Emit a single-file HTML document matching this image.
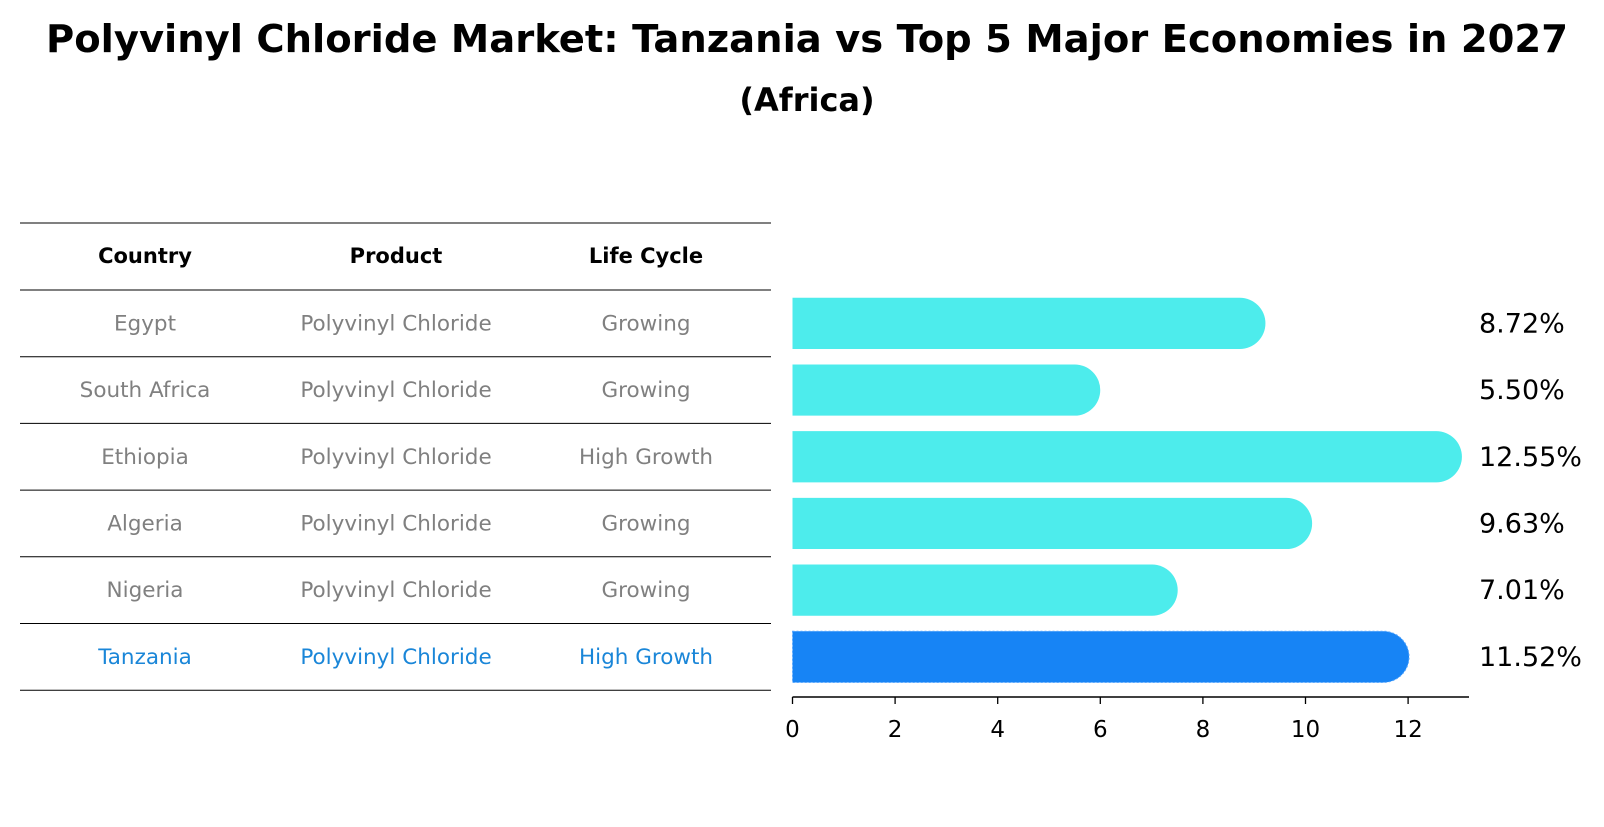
<!DOCTYPE html>
<html><head><meta charset="utf-8"><style>
body{margin:0;background:#fff;width:1604px;height:823px;overflow:hidden;font-family:"DejaVu Sans","Liberation Sans",sans-serif}
</style></head><body>
<svg width="1604" height="823" xmlns="http://www.w3.org/2000/svg" font-family="DejaVu Sans, Liberation Sans, sans-serif">
<text x="807" y="52" text-anchor="middle" font-size="38.5" font-weight="bold">Polyvinyl Chloride Market: Tanzania vs Top 5 Major Economies in 2027</text>
<text x="807" y="111" text-anchor="middle" font-size="32" font-weight="bold">(Africa)</text>
<g id="table"></g>
<g id="bars"></g>
</svg>
<script>
const countries=["Egypt","South Africa","Ethiopia","Algeria","Nigeria","Tanzania"];
const products=["Polyvinyl Chloride","Polyvinyl Chloride","Polyvinyl Chloride","Polyvinyl Chloride","Polyvinyl Chloride","Polyvinyl Chloride"];
const lifecycles=["Growing","Growing","High Growth","Growing","Growing","High Growth"];
const values=[8.72,5.50,12.55,9.63,7.01,11.52];
const ticks=[0,2,4,6,8,10,12];
const NS="http://www.w3.org/2000/svg";
const x0=792.5,scale=51.3,rowTop=290,rowH=66.7;
const xs=v=>x0+v*scale, yc=i=>rowTop+rowH*(i+0.5);
const tbl=document.getElementById('table'),bars=document.getElementById('bars');
function mk(tag,attrs,parent,txt){const e=document.createElementNS(NS,tag);for(const k in attrs)e.setAttribute(k,attrs[k]);if(txt!==undefined)e.textContent=txt;parent.appendChild(e);return e;}
const cols=[145,396,646];
for(let j=0;j<3;j++){const t=mk('text',{x:cols[j],y:263,'text-anchor':'middle','font-size':21,'font-weight':'bold'},tbl,["Country","Product","Life Cycle"][j]);

}
for(let k=0;k<=countries.length+1;k++){const y=k==0?223:rowTop+rowH*(k-1);const l=mk('line',{x1:20,x2:771,y1:y,y2:y,stroke:'#000','stroke-width':1},tbl);

}
countries.forEach((c,i)=>{const last=i==countries.length-1;const col=last?'#1a86d8':'#808080';
[c,products[i],lifecycles[i]].forEach((s,j)=>{const t=mk('text',{x:cols[j],y:yc(i)+7,'text-anchor':'middle','font-size':21.5,fill:col,'textLength':undefined},tbl,s);
t.removeAttribute('textLength');

});
const r=25.6,x1=xs(values[i]);const fill=last?'#1784f5':'#4decec';
const p=mk('path',{d:`M${x0},${yc(i)-r}H${x1}A${r},${r} 0 0 1 ${x1},${yc(i)+r}H${x0}Z`,fill:fill},bars);
if(last){p.setAttribute('stroke','#5aa8ff');p.setAttribute('stroke-dasharray','2,2');p.setAttribute('stroke-width','1');}


const lb=mk('text',{x:1479,y:yc(i)+9,'font-size':27},bars,values[i].toFixed(2)+'%');

});
const ax=mk('line',{x1:x0,x2:1469,y1:697,y2:697,stroke:'#000','stroke-width':1.5},bars);


ticks.forEach(t=>{const tl=mk('line',{x1:xs(t),x2:xs(t),y1:697,y2:704,stroke:'#000','stroke-width':1.3},bars);


const tx=mk('text',{x:xs(t),y:737,'text-anchor':'middle','font-size':23},bars,String(t));

});
</script>
</body></html>
